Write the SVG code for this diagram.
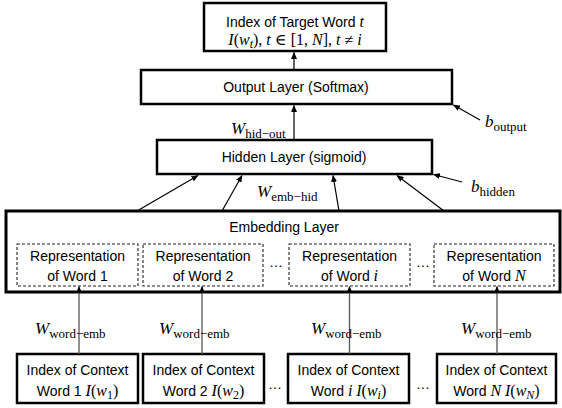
<svg xmlns="http://www.w3.org/2000/svg" width="562" height="408" viewBox="0 0 562 408">
<style>
.box{fill:#fff;stroke:#000;stroke-width:2.5}
.emb{fill:#fff;stroke:#000;stroke-width:3}
.rep{fill:#fff;stroke:#222;stroke-width:1.1;stroke-dasharray:3,2}
.t{font-family:"Liberation Sans",Arial,sans-serif;font-size:14px;fill:#000;text-anchor:middle}
.m{font-family:"Liberation Serif","DejaVu Serif",serif;font-style:italic;font-size:16px}
.u{font-family:"Liberation Serif","DejaVu Serif",serif;font-style:normal;font-size:16px}
.s{font-size:12px}
.lbl{font-family:"Liberation Serif","DejaVu Serif",serif;font-size:17px;fill:#000}
.ls{font-size:13px}
.c{stroke:#000;stroke-width:1.2;fill:none;marker-end:url(#ah)}
.cg{stroke:#555;stroke-width:1.3;fill:none;marker-end:url(#ah)}
</style>
<defs>
<marker id="ah" markerWidth="7" markerHeight="6" refX="6.5" refY="3" orient="auto" markerUnits="userSpaceOnUse"><path d="M0,0 L7,3 L0,6 z" fill="#000"/></marker>
</defs>
<rect width="562" height="408" fill="#fff"/>

<g id="target">
<rect class="box" x="204" y="3" width="182" height="48"/>
<text class="t" x="295" y="27">Index of Target Word <tspan class="m">t</tspan></text>
<text class="t" x="295" y="45"><tspan class="m">I</tspan><tspan class="u">(</tspan><tspan class="m">w</tspan><tspan class="m s" dy="3">t</tspan><tspan class="u" dy="-3">), </tspan><tspan class="m">t</tspan><tspan class="u"> ∈ [1, </tspan><tspan class="m">N</tspan><tspan class="u">], </tspan><tspan class="m">t</tspan><tspan class="u"> ≠ </tspan><tspan class="m">i</tspan></text>
</g>

<g id="output">
<rect class="box" x="141" y="70" width="311" height="34"/>
<text class="t" x="296" y="92">Output Layer (Softmax)</text>
</g>

<g id="hidden">
<rect class="box" x="157" y="140" width="275" height="34"/>
<text class="t" x="294" y="162">Hidden Layer (sigmoid)</text>
</g>

<g id="embedding">
<rect class="emb" x="6" y="211" width="554" height="81"/>
<text class="t" x="284" y="232">Embedding Layer</text>
</g>

<g id="rep1">
<rect class="rep" x="17" y="244" width="121" height="42"/>
<text class="t" x="77.5" y="261">Representation</text>
<text class="t" x="77.5" y="281">of Word 1</text>
</g>
<g id="rep2">
<rect class="rep" x="143" y="244" width="120" height="42"/>
<text class="t" x="203" y="261">Representation</text>
<text class="t" x="203" y="281">of Word 2</text>
</g>
<g id="rep3">
<rect class="rep" x="289" y="244" width="121" height="42"/>
<text class="t" x="349.5" y="261">Representation</text>
<text class="t" x="349.5" y="281">of Word <tspan class="m">i</tspan></text>
</g>
<g id="rep4">
<rect class="rep" x="434" y="244" width="120" height="42"/>
<text class="t" x="494" y="261">Representation</text>
<text class="t" x="494" y="281">of Word <tspan class="m">N</tspan></text>
</g>
<text class="t" x="276" y="267">…</text>
<text class="t" x="423" y="267">…</text>

<g id="ctx1">
<rect class="box" x="17" y="354" width="121" height="49"/>
<text class="t" x="77.5" y="375">Index of Context</text>
<text class="t" x="77.5" y="396">Word 1 <tspan class="m">I</tspan><tspan class="u">(</tspan><tspan class="m">w</tspan><tspan class="u s" dy="3">1</tspan><tspan class="u" dy="-3">)</tspan></text>
</g>
<g id="ctx2">
<rect class="box" x="143" y="354" width="121" height="49"/>
<text class="t" x="203.5" y="375">Index of Context</text>
<text class="t" x="203.5" y="396">Word 2 <tspan class="m">I</tspan><tspan class="u">(</tspan><tspan class="m">w</tspan><tspan class="u s" dy="3">2</tspan><tspan class="u" dy="-3">)</tspan></text>
</g>
<g id="ctx3">
<rect class="box" x="288" y="354" width="121" height="49"/>
<text class="t" x="348.5" y="375">Index of Context</text>
<text class="t" x="348.5" y="396">Word <tspan class="m">i</tspan> <tspan class="m">I</tspan><tspan class="u">(</tspan><tspan class="m">w</tspan><tspan class="m s" dy="3">i</tspan><tspan class="u" dy="-3">)</tspan></text>
</g>
<g id="ctx4">
<rect class="box" x="437" y="354" width="119" height="49"/>
<text class="t" x="496.5" y="375">Index of Context</text>
<text class="t" x="496.5" y="396">Word <tspan class="m">N</tspan> <tspan class="m">I</tspan><tspan class="u">(</tspan><tspan class="m">w</tspan><tspan class="m s" dy="3">N</tspan><tspan class="u" dy="-3">)</tspan></text>
</g>
<text class="t" x="275" y="389">…</text>
<text class="t" x="423" y="389">…</text>

<g id="connectors">
<path class="c" d="M294,70 L294,52.5"/>
<path class="c" d="M294,140 L294,105.5"/>
<path class="c" d="M480,120 L453.5,105"/>
<path class="c" d="M462,182 L433.5,174.5"/>
<path class="c" d="M137,211 L198,175.5"/>
<path class="c" d="M222,211 L242,175.5"/>
<path class="c" d="M339,211 L333,175.5"/>
<path class="c" d="M444,211 L397,175.5"/>
<path class="cg" d="M79,354 L79,286.5"/>
<path class="cg" d="M202,354 L202,286.5"/>
<path class="cg" d="M349.5,354 L349.5,286.5"/>
<path class="cg" d="M497,354 L497,286.5"/>
</g>

<g id="labels">
<text class="lbl" x="231" y="134"><tspan font-style="italic">W</tspan><tspan class="ls" dy="4">hid−out</tspan></text>
<text class="lbl" x="257" y="197"><tspan font-style="italic">W</tspan><tspan class="ls" dy="4">emb−hid</tspan></text>
<text class="lbl" x="485" y="127"><tspan font-style="italic">b</tspan><tspan class="ls" dy="4">output</tspan></text>
<text class="lbl" x="471" y="192"><tspan font-style="italic">b</tspan><tspan class="ls" dy="4">hidden</tspan></text>
<text class="lbl" x="35" y="334"><tspan font-style="italic">W</tspan><tspan class="ls" dy="4">word−emb</tspan></text>
<text class="lbl" x="159" y="334"><tspan font-style="italic">W</tspan><tspan class="ls" dy="4">word−emb</tspan></text>
<text class="lbl" x="311" y="334"><tspan font-style="italic">W</tspan><tspan class="ls" dy="4">word−emb</tspan></text>
<text class="lbl" x="461" y="334"><tspan font-style="italic">W</tspan><tspan class="ls" dy="4">word−emb</tspan></text>
</g>
</svg>
